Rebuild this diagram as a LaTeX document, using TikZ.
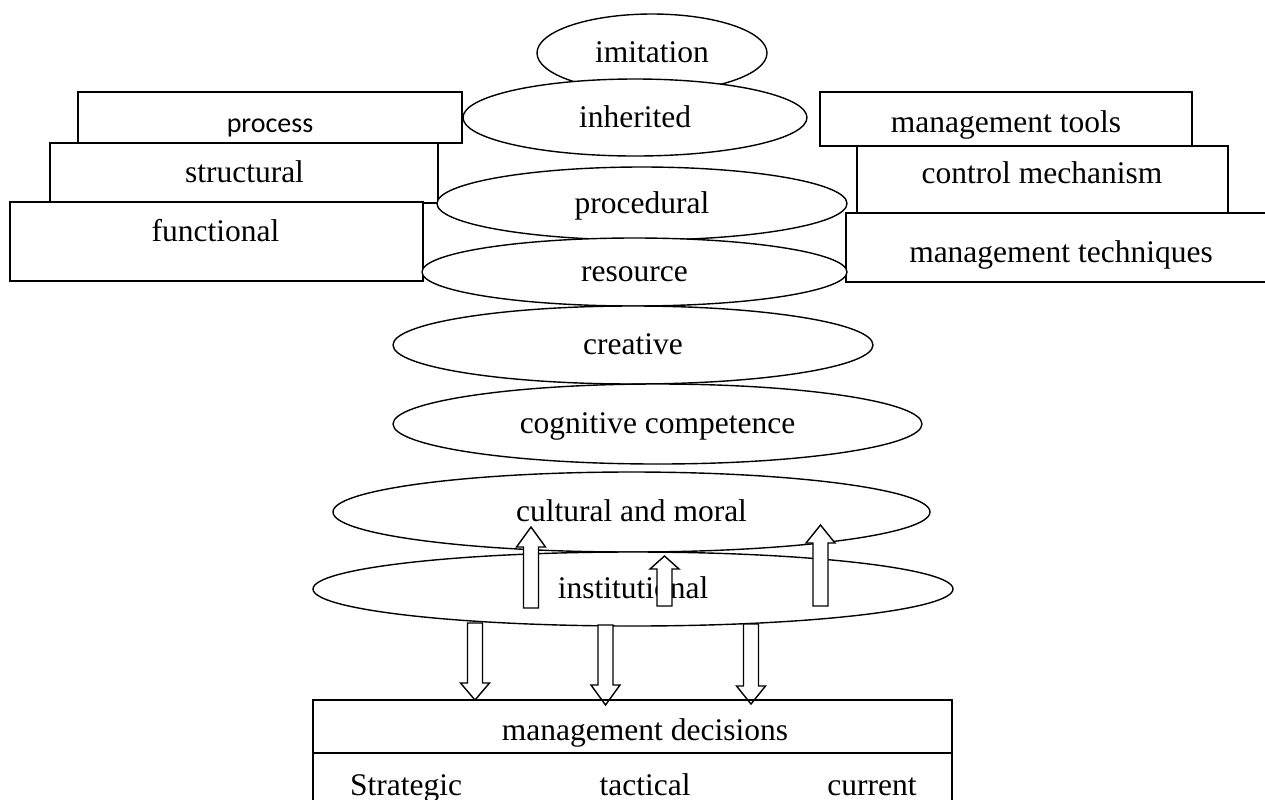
\documentclass[tikz,border=0pt]{standalone}
\usepackage{fontspec}
\setmainfont{Liberation Serif}
\newfontfamily\carlitofont{Carlito}
\usetikzlibrary{shapes.geometric}
\tikzset{
  pics/blockarr/.style n args={2}{code={
    \draw[blk] (-7.5,0) -- (-7.5,-#1+#2) -- (-14.5,-#1+#2) -- (0,-#1)
      -- (14.5,-#1+#2) -- (7.5,-#1+#2) -- (7.5,0) -- cycle;
  }},
}
\begin{document}
\begin{tikzpicture}[x=0.5pt,y=-0.5pt,line width=0.7pt,
  mainfont/.style={font=\fontsize{15.75}{18}\selectfont},
  ell/.style={ellipse,draw,fill=white,inner sep=0pt,text height=11.5pt,text depth=2pt,mainfont},
  rbox/.style={rectangle,draw,fill=white,inner sep=0pt},
  txt/.style={anchor=base,inner sep=0pt,mainfont},
  blk/.style={draw,fill=white,line join=miter},
]
\useasboundingbox (0,0) rectangle (1265,799);

% left stacked boxes
\node[rbox,minimum width=192pt,minimum height=25.5pt] (proc) at (270,117.5) {};
\node[rbox,minimum width=194pt,minimum height=30pt] (struc) at (244,173) {};
\node[rbox,minimum width=206.5pt,minimum height=39.5pt] (func) at (216.5,241.5) {};
\node[txt,font=\carlitofont\fontsize{14}{16}\selectfont] (proc-t) at (270,132) {process};
\node[txt] (struc-t) at (244.5,182) {structural};
\node[txt] (func-t) at (215.5,241) {functional};

% right stacked boxes
\node[rbox,minimum width=186pt,minimum height=27pt] (tools) at (1006,119) {};
\node[rbox,minimum width=185.5pt,minimum height=33.5pt] (ctrl) at (1042.5,179.5) {};
\node[rbox,minimum width=217pt,minimum height=34.5pt] (tech) at (1063,247.5) {};
\node[txt] (tools-t) at (1006,132) {management tools};
\node[txt] (ctrl-t) at (1042,183) {control mechanism};
\node[txt] (tech-t) at (1061,262) {management techniques};

% central ellipses
\node[ell,minimum width=115pt,minimum height=39pt] (imit) at (652,53) {imitation};
\node[ell,minimum width=172pt,minimum height=38.5pt] (inh) at (635,117.5) {inherited};
\node[ell,minimum width=205pt,minimum height=36.5pt] (procd) at (642,203.5) {procedural};
\node[ell,minimum width=212.5pt,minimum height=34pt] (res) at (634.5,272) {resource};
\node[ell,minimum width=240pt,minimum height=39pt] (crea) at (633,345) {creative};
\node[ell,minimum width=264.5pt,minimum height=40pt] (cogn) at (657.5,424) {cognitive competence};
\node[ell,minimum width=298.5pt,minimum height=40pt] (cult) at (631.5,512) {cultural and moral};
\node[ell,minimum width=320pt,minimum height=37pt] (inst) at (633,589) {institutional};

% up arrows (institutional -> cultural and moral)
\pic at (531,608) {blockarr={81}{20}};
\pic at (664.5,606) {blockarr={50}{13}};
\pic at (820.5,606) {blockarr={81}{18}};

% down arrows (institutional -> management decisions)
\pic[rotate=180] at (475,623) {blockarr={77}{17}};
\pic[rotate=180] at (605.5,625) {blockarr={80}{20}};
\pic[rotate=180] at (751,624) {blockarr={80}{18}};

% management decisions box
\node[rectangle,draw,inner sep=0pt,minimum width=319.5pt,minimum height=60pt] (dec) at (632.5,760) {};
\draw (dec.west |- 0,753) -- (dec.east |- 0,753);
\node[txt] (dec-t) at (645,740) {management decisions};
\node[txt] (strat) at (406,795) {Strategic};
\node[txt] (tact) at (645,795) {tactical};
\node[txt] (curr) at (872,795) {current};
\end{tikzpicture}
\end{document}
